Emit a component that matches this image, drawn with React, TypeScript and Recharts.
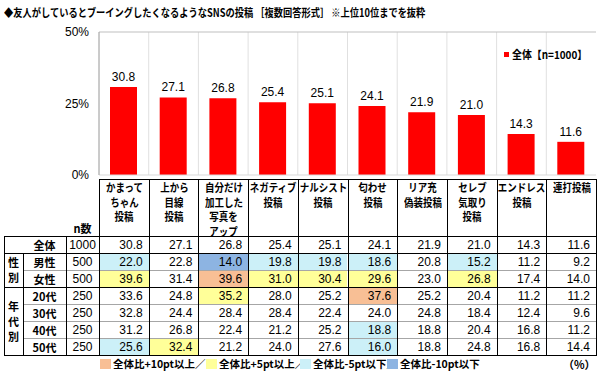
import { BarChart, Bar, XAxis, YAxis, CartesianGrid, LabelList, ReferenceLine } from "recharts";

const title =
  "◆友人がしているとブーイングしたくなるようなSNSの投稿 ［複数回答形式］ ※上位10位までを抜粋";
const seriesName = "全体【n=1000】";

// header labels (line breaks as in the table head)
const categories = [
  "かまって\nちゃん\n投稿",
  "上から\n目線\n投稿",
  "自分だけ\n加工した\n写真を\nアップ",
  "ネガティブ\n投稿",
  "ナルシスト\n投稿",
  "匂わせ\n投稿",
  "リア充\n偽装投稿",
  "セレブ\n気取り\n投稿",
  "エンドレス\n投稿",
  "連打投稿",
];
const yTicks = [0, 25, 50];

const totalValues = [30.8, 27.1, 26.8, 25.4, 25.1, 24.1, 21.9, 21.0, 14.3, 11.6];
const maleValues = [22.0, 22.8, 14.0, 19.8, 19.8, 18.6, 20.8, 15.2, 11.2, 9.2];
const femaleValues = [39.6, 31.4, 39.6, 31.0, 30.4, 29.6, 23.0, 26.8, 17.4, 14.0];
const age20Values = [33.6, 24.8, 35.2, 28.0, 25.2, 37.6, 25.2, 20.4, 11.2, 11.2];
const age30Values = [32.8, 24.4, 28.4, 28.4, 22.4, 24.0, 24.8, 18.4, 12.4, 9.6];
const age40Values = [31.2, 26.8, 22.4, 21.2, 25.2, 18.8, 18.8, 20.4, 16.8, 11.2];
const age50Values = [25.6, 32.4, 21.2, 24.0, 27.6, 16.0, 18.8, 24.8, 16.8, 14.4];

const rowLabels = ["全体", "男性", "女性", "20代", "30代", "40代", "50代"];
const rowN = [1000, 500, 500, 250, 250, 250, 250];
const rowValues = [totalValues, maleValues, femaleValues, age20Values, age30Values, age40Values, age50Values];

// 全体比の区分: 2 = +10pt以上, 1 = +5pt以上, -1 = -5pt以下, -2 = -10pt以下
const totalMarks = [0, 0, 0, 0, 0, 0, 0, 0, 0, 0];
const maleMarks = [-1, 0, -2, -1, -1, -1, 0, -1, 0, 0];
const femaleMarks = [1, 0, 2, 1, 1, 1, 0, 1, 0, 0];
const age20Marks = [0, 0, 1, 0, 0, 2, 0, 0, 0, 0];
const age30Marks = [0, 0, 0, 0, 0, 0, 0, 0, 0, 0];
const age40Marks = [0, 0, 0, 0, 0, -1, 0, 0, 0, 0];
const age50Marks = [-1, 1, 0, 0, 0, -1, 0, 0, 0, 0];
const rowMarks = [totalMarks, maleMarks, femaleMarks, age20Marks, age30Marks, age40Marks, age50Marks];

const groups = [
  { label: "性別", from: 1, to: 2 },
  { label: "年代別", from: 3, to: 6 },
];

const markLegend = [
  { label: "全体比+10pt以上／", level: 2 },
  { label: "全体比+5pt以上／", level: 1 },
  { label: "全体比-5pt以下／", level: -1 },
  { label: "全体比-10pt以下", level: -2 },
];

const markColors: Record<number, string> = {
  2: "#f8bf95",
  1: "#ffff99",
  [-1]: "#ccf0f8",
  [-2]: "#8db4e2",
};

const chartData = categories.map((c, i) => ({ name: c.replace(/\n/g, ""), value: totalValues[i] }));

const JP = "'Noto Sans CJK JP', sans-serif";
const NUM = "'Liberation Sans', Arial, sans-serif";

// layout
const PLOT_L = 99;
const PLOT_R = 596;
const COL_W = (PLOT_R - PLOT_L) / 10;
const HEAD_TOP = 179;
const ROW_TOP = 236;
const ROW_H = 17;
const TABLE_BOTTOM = ROW_TOP + ROW_H * rowLabels.length;
const colX = (i: number) => PLOT_L + COL_W * i;
const rowY = (r: number) => ROW_TOP + ROW_H * r;
const legendX = [100, 206, 300, 387];
const LEGEND_TOP = 358;

function HLine({ y, x1, x2, color }: { y: number; x1: number; x2: number; color: string }) {
  return (
    <div
      style={{ position: "absolute", left: Math.round(x1), top: Math.round(y), width: Math.round(x2 - x1) + 1, height: 1, background: color }}
    />
  );
}

function VLine({ x, y1, y2 }: { x: number; y1: number; y2: number }) {
  return (
    <div
      style={{ position: "absolute", left: Math.round(x), top: Math.round(y1), width: 1, height: Math.round(y2 - y1) + 1, background: "#000" }}
    />
  );
}

const jpBold = {
  fontFamily: JP,
  fontWeight: 700,
  fontSize: 11,
  color: "#000",
} as const;

function Table() {
  const black = "#000";
  const gray = "#a6a6a6";
  const hLines = [
    { y: HEAD_TOP, x1: PLOT_L, color: black },
    { y: rowY(0), x1: 4, color: black },
    { y: rowY(1), x1: 4, color: black },
    { y: rowY(2), x1: 23, color: gray },
    { y: rowY(3), x1: 4, color: black },
    { y: rowY(4), x1: 23, color: gray },
    { y: rowY(5), x1: 23, color: gray },
    { y: rowY(6), x1: 23, color: gray },
    { y: rowY(7), x1: 4, color: black },
  ];

  return (
    <>
      {/* header labels */}
      {categories.map((c, i) => (
        <div
          key={c}
          style={{
            ...jpBold,
            position: "absolute",
            left: colX(i) + 1,
            top: HEAD_TOP + 1,
            width: COL_W - 1,
            display: "flex",
            flexDirection: "column",
            alignItems: "center",
            lineHeight: "14.5px",
          }}
        >
          {c.split("\n").map((line) => (
            <span key={line} style={{ whiteSpace: "pre", display: "inline-block", transform: "scaleX(0.86)" }}>
              {line}
            </span>
          ))}
        </div>
      ))}
      <div style={{ ...jpBold, position: "absolute", left: 66, top: rowY(0) - 15, width: 33, textAlign: "center", lineHeight: "14px" }}>
        n数
      </div>

      {/* body cells */}
      {rowLabels.map((label, r) => (
        <div key={label}>
          <div
            style={{ ...jpBold, position: "absolute", left: 23, top: rowY(r), width: 43, height: ROW_H, lineHeight: `${ROW_H + 1}px`, textAlign: "center" }}
          >
            {label}
          </div>
          <div
            style={{ position: "absolute", left: 66, top: rowY(r), width: 33, height: ROW_H, lineHeight: `${ROW_H + 1}px`, textAlign: "center", fontFamily: NUM, fontSize: 12 }}
          >
            {rowN[r]}
          </div>
          {rowValues[r].map((v, i) => (
            <div
              key={i}
              style={{
                position: "absolute",
                left: colX(i) + 1,
                top: rowY(r) + 1,
                width: COL_W - 1,
                height: ROW_H - 1,
                lineHeight: `${ROW_H}px`,
                background: markColors[rowMarks[r][i]] ?? "transparent",
                textAlign: "right",
                paddingRight: 6,
                boxSizing: "border-box",
                fontFamily: NUM,
                fontSize: 12,
              }}
            >
              {v.toFixed(1)}
            </div>
          ))}
        </div>
      ))}

      {groups.map((g) => (
        <div
          key={g.label}
          style={{
            ...jpBold,
            position: "absolute",
            left: 4,
            top: rowY(g.from),
            width: 19,
            height: rowY(g.to + 1) - rowY(g.from),
            display: "flex",
            flexDirection: "column",
            justifyContent: "center",
            alignItems: "center",
            lineHeight: "15px",
          }}
        >
          {g.label.split("").map((ch) => (
            <span key={ch}>{ch}</span>
          ))}
        </div>
      ))}

      {/* grid lines */}
      {hLines.map((l) => (
        <HLine key={l.y} y={l.y} x1={l.x1} x2={PLOT_R} color={l.color} />
      ))}
      <VLine x={4} y1={rowY(0)} y2={TABLE_BOTTOM} />
      <VLine x={23} y1={rowY(1)} y2={TABLE_BOTTOM} />
      <VLine x={66} y1={rowY(0)} y2={TABLE_BOTTOM} />
      {categories.map((c, i) => (
        <VLine key={c} x={colX(i)} y1={HEAD_TOP} y2={TABLE_BOTTOM} />
      ))}
      <VLine x={PLOT_R} y1={HEAD_TOP} y2={TABLE_BOTTOM} />

      {/* bottom legend */}
      {markLegend.map((m, i) => (
        <div
          key={m.label}
          style={{
            ...jpBold,
            fontSize: 10.5,
            position: "absolute",
            left: legendX[i],
            top: LEGEND_TOP,
            height: 12,
            display: "flex",
            alignItems: "center",
            whiteSpace: "nowrap",
            lineHeight: "12px",
            fontFeatureSettings: '"palt"',
          }}
        >
          <span style={{ display: "inline-block", width: 11, height: 10, background: markColors[m.level], marginRight: 2 }} />
          <span>{m.label}</span>
        </div>
      ))}
      <div style={{ ...jpBold, position: "absolute", left: 563, top: LEGEND_TOP, height: 12, lineHeight: "12px", whiteSpace: "nowrap" }}>
        （%）
      </div>
    </>
  );
}

export default function App() {
  return (
    <div style={{ position: "absolute", left: 0, top: 0, width: 600, height: 371, background: "#fff", overflow: "hidden", color: "#000" }}>
      <div
        style={{
          ...jpBold,
          position: "absolute",
          left: 4,
          top: 5,
          lineHeight: "14px",
          whiteSpace: "nowrap",
          transform: "scaleX(0.84)",
          transformOrigin: "left center",
        }}
      >
        {title}
      </div>

      <div style={{ position: "absolute", left: 0, top: 0 }}>
        <BarChart
          width={600}
          height={186}
          data={chartData}
          margin={{ top: 32, right: 4, bottom: 11, left: 0 }}
          style={{ fontFamily: NUM }}
        >
          <CartesianGrid
            stroke="#e0e0e0"
            horizontal={false}
            verticalCoordinatesGenerator={({ offset }: any) =>
              categories.map((_, i) => offset.left + (offset.width * i) / categories.length)
            }
          />
          <XAxis dataKey="name" hide />
          <YAxis
            domain={[0, 50]}
            ticks={yTicks}
            tickFormatter={(v: number) => `${v}%`}
            width={99}
            tickLine={false}
            tickMargin={4}
            axisLine={{ stroke: "#a6a6a6" }}
            tick={{ fontSize: 12, fill: "#000", fontFamily: NUM }}
          />
          <YAxis yAxisId="frame" orientation="right" width={0} tick={false} axisLine={{ stroke: "#bfbfbf" }} domain={[0, 50]} />
          <ReferenceLine y={50} stroke="#bfbfbf" />
          <ReferenceLine y={0} stroke="#d9d9d9" />
          <Bar dataKey="value" fill="#ff0000" barSize={27} isAnimationActive={false}>
            <LabelList
              dataKey="value"
              position="top"
              offset={6}
              formatter={(v: any) => Number(v).toFixed(1)}
              fill="#000"
              fontSize={12}
              fontFamily={NUM}
            />
          </Bar>
        </BarChart>
      </div>

      {/* series legend */}
      <div style={{ ...jpBold, position: "absolute", left: 504, top: 47, display: "flex", alignItems: "center", lineHeight: "14px" }}>
        <span style={{ display: "inline-block", width: 5, height: 5, background: "#ff0000", marginRight: 3 }} />
        <span style={{ display: "inline-block", transform: "scaleX(0.9)", transformOrigin: "left center", whiteSpace: "nowrap" }}>{seriesName}</span>
      </div>

      <Table />
    </div>
  );
}
